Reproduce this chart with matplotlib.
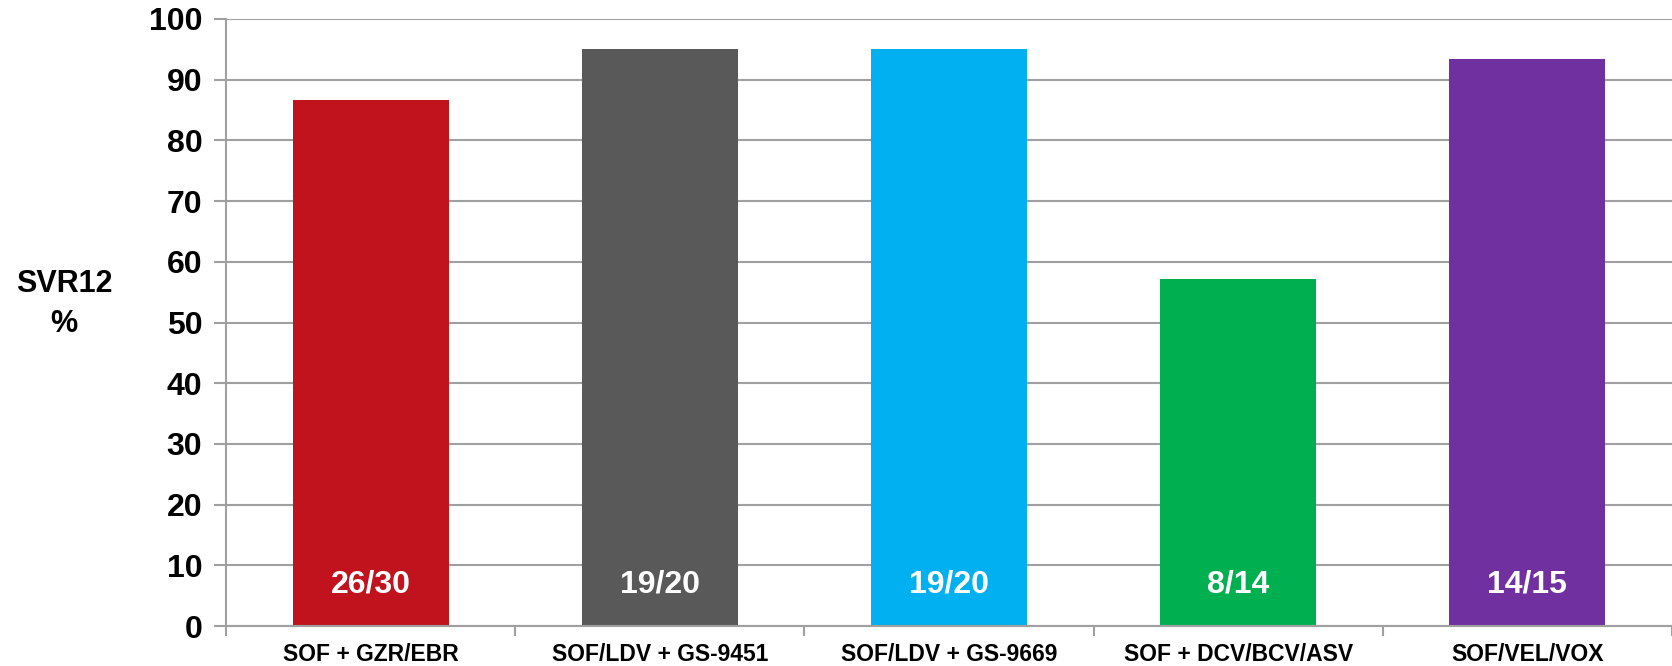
import numpy as np
import matplotlib.pyplot as plt

plt.rcParams['font.family'] = ['Liberation Sans', 'DejaVu Sans']

regimens = ['SOF + GZR/EBR', 'SOF/LDV + GS-9451', 'SOF/LDV + GS-9669',
            'SOF + DCV/BCV/ASV', 'SOF/VEL/VOX']
cured = [26, 19, 19, 8, 14]
treated = [30, 20, 20, 14, 15]
colors = ['#C0131E', '#595959', '#00B0F0', '#00B050', '#7030A0']

svr = [100.0 * c / t for c, t in zip(cured, treated)]
x = np.arange(len(regimens))

fig = plt.figure(figsize=(16.72, 6.66), dpi=100)
ax = fig.add_axes([226 / 1672, 40 / 666, 1 - 226 / 1672, 607 / 666])

ax.set_axisbelow(True)
ax.yaxis.grid(True, color='#A0A0A0', linewidth=1.5)
ax.bar(x, svr, width=0.54, color=colors, zorder=2)

for xi, c, t in zip(x, cured, treated):
    ax.text(xi, 6.8, f'{c}/{t}', ha='center', va='center', color='white',
            fontsize=23, fontweight='bold', zorder=3)

ax.set_xlim(-0.5, len(regimens) - 0.5)
ax.set_ylim(0, 100)
ax.set_yticks(range(0, 101, 10))
ax.set_yticklabels([str(v) for v in range(0, 101, 10)], fontsize=23, fontweight='bold')
ax.set_xticks(x)
ax.set_xticklabels(regimens, fontsize=16.5, fontweight='bold')
ax.set_xticks(np.arange(-0.5, len(regimens)), minor=True)
ax.tick_params(axis='x', which='major', length=0, pad=12)
ax.tick_params(axis='x', which='minor', length=7, width=1.5, color='#A0A0A0')
ax.tick_params(axis='y', length=9, width=1.5, color='#A0A0A0', pad=8)

for s in ['top', 'right']:
    ax.spines[s].set_visible(False)
for s in ['left', 'bottom']:
    ax.spines[s].set_color('#A0A0A0')
    ax.spines[s].set_linewidth(1.5)

fig.text(64 / 1672, 1 - 304 / 666, 'SVR12\n%', ha='center', va='center',
         fontsize=22, fontweight='bold', linespacing=1.4)

fig.savefig('out.png', dpi=100)
